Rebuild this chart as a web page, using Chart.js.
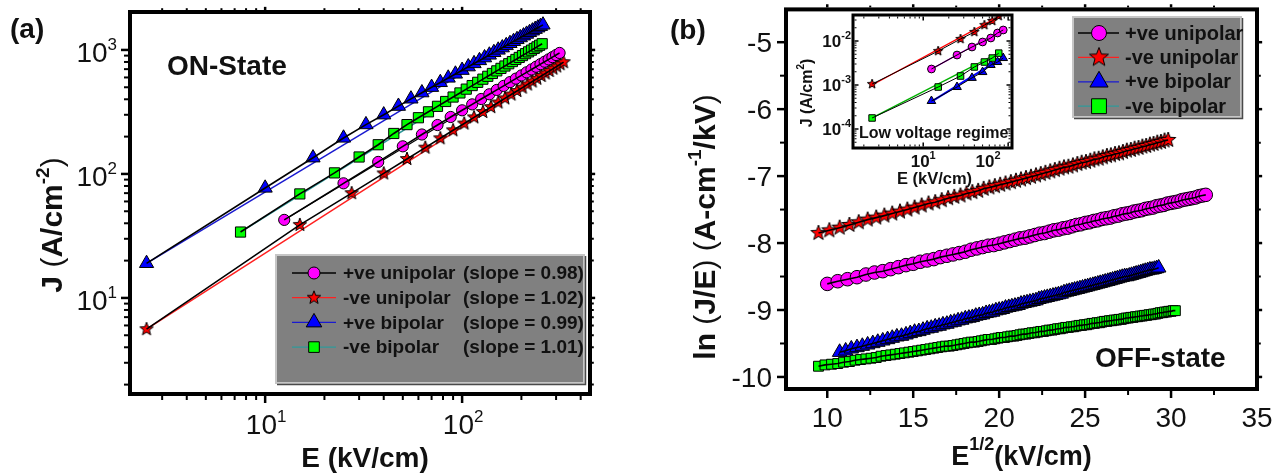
<!DOCTYPE html>
<html>
<head>
<meta charset="utf-8">
<script src="https://cdn.jsdelivr.net/npm/chart.js@4.4.0/dist/chart.umd.min.js"></script>
<style>
  html, body { margin: 0; padding: 0; background: #fff; }
  #wrap { position: relative; width: 1276px; height: 473px; overflow: hidden; }
  canvas { position: absolute; top: 0; }
</style>
</head>
<body>
<div id="wrap">
  <canvas id="chartA" width="650" height="473" style="left:0"></canvas>
  <canvas id="chartB" width="626" height="473" style="left:650px"></canvas>
  <canvas id="chartInset" width="240" height="195" style="left:780px"></canvas>
</div>
<script>
// ---------- data ----------
const seriesNames = ['+ve unipolar', '-ve unipolar', '+ve bipolar', '-ve bipolar'];
const slopeLabels = ['(slope = 0.98)', '(slope = 1.02)', '(slope = 0.99)', '(slope = 1.01)'];

// (a) ON state: E (kV/cm) and J (A/cm^2)
const onMagE = [12.5,25,37.5,50,62.5,75,87.5,100,112.5,125,137.5,150,162.5,175,187.5,200,212.5,225,237.5,250,262.5,275,287.5,300,312.5];
const onMagJ = [42.6,84,125,167,208,248,288,326,364,402,439,476,513,550,587,623,660,696,732,768,804,839,875,910,946];
const onRedE = [2.5,15,27.5,40,52.5,65,77.5,90,102.5,115,127.5,140,152.5,165,177.5,190,202.5,215,227.5,240,252.5,265,277.5,290,302.5,315,327.5];
const onRedJ = [5.6,38.8,70,101,132,163,194,225,255,286,316,346,377,407,437,467,497,527,557,587,617,647,677,707,737,767,797];
const onBlueE = [2.5,10,17.5,25,32.5,40,47.5,55,62.5,70,77.5,85,92.5,100,107.5,115,122.5,130,137.5,145,152.5,160,167.5,175,182.5,190,197.5,205,212.5,220,227.5,235,242.5,250,257.5];
const onBlueJ = [19,77,135,195,250,300,352,403,452,500,547,594,640,686,732,777,822,866,911,955,999,1042,1086,1129,1172,1215,1257,1300,1342,1384,1426,1468,1509,1551,1592];
const onGreenE = [7.5,15,22.5,30,37.5,45,52.5,60,67.5,75,82.5,90,97.5,105,112.5,120,127.5,135,142.5,150,157.5,165,172.5,180,187.5,195,202.5,210,217.5,225,232.5,240,247.5,255];
const onGreenJ = [34,69,102,137,172,212,250,284,317,351,384,417,450,483,516,548,581,613,646,678,710,742,774,806,838,870,901,933,965,996,1028,1059,1091,1122];
// (a) fitted straight lines (end points)
const onMagFitE = [12.5, 312.5],  onMagFitJ = [42.6, 946];
const onRedFitE = [2.5, 327.5],   onRedFitJ = [5.6, 797];
const onBlueFitE = [2.5, 257.5],  onBlueFitJ = [19, 1592];
const onGreenFitE = [7.5, 255],   onGreenFitJ = [34, 1122];

// (b) OFF state: E^1/2 and ln(J/E)
const offRedX = [9.49,10.12,10.72,11.29,11.83,12.35,12.85,13.32,13.78,14.23,14.66,15.08,15.49,15.89,16.28,16.66,17.03,17.39,17.75,18.10,18.44,18.78,19.10,19.43,19.75,20.06,20.37,20.68,20.98,21.27,21.56,21.85,22.14,22.42,22.69,22.97,23.24,23.51,23.77,24.03,24.29,24.55,24.80,25.05,25.30,25.54,25.79,26.03,26.27,26.50,26.74,26.97,27.20,27.43,27.66,27.88,28.11,28.33,28.55,28.77,28.98,29.20,29.41,29.62,29.83];
const offRedY = [-7.85,-7.81,-7.77,-7.73,-7.69,-7.65,-7.62,-7.59,-7.56,-7.53,-7.50,-7.47,-7.44,-7.41,-7.39,-7.36,-7.33,-7.31,-7.29,-7.26,-7.24,-7.22,-7.19,-7.17,-7.15,-7.13,-7.11,-7.09,-7.07,-7.05,-7.03,-7.01,-6.99,-6.97,-6.95,-6.93,-6.91,-6.89,-6.87,-6.86,-6.84,-6.82,-6.80,-6.79,-6.77,-6.75,-6.74,-6.72,-6.70,-6.69,-6.67,-6.66,-6.64,-6.62,-6.61,-6.59,-6.58,-6.56,-6.55,-6.53,-6.52,-6.50,-6.49,-6.47,-6.46];
const offMagX = [10.00,10.61,11.18,11.73,12.25,12.75,13.23,13.69,14.14,14.58,15.00,15.41,15.81,16.20,16.58,16.96,17.32,17.68,18.03,18.37,18.71,19.04,19.36,19.69,20.00,20.31,20.62,20.92,21.21,21.51,21.79,22.08,22.36,22.64,22.91,23.18,23.45,23.72,23.98,24.24,24.49,24.75,25.00,25.25,25.50,25.74,25.98,26.22,26.46,26.69,26.93,27.16,27.39,27.61,27.84,28.06,28.28,28.50,28.72,28.94,29.15,29.37,29.58,29.79,30.00,30.21,30.41,30.62,30.82,31.02,31.22,31.42,31.62,31.82,32.02];
const offMagY = [-8.61,-8.57,-8.54,-8.51,-8.47,-8.44,-8.42,-8.39,-8.36,-8.33,-8.31,-8.28,-8.26,-8.24,-8.21,-8.19,-8.17,-8.15,-8.13,-8.10,-8.08,-8.06,-8.04,-8.03,-8.01,-7.99,-7.97,-7.95,-7.93,-7.92,-7.90,-7.88,-7.86,-7.85,-7.83,-7.81,-7.80,-7.78,-7.77,-7.75,-7.73,-7.72,-7.70,-7.69,-7.67,-7.66,-7.64,-7.63,-7.62,-7.60,-7.59,-7.57,-7.56,-7.55,-7.53,-7.52,-7.51,-7.49,-7.48,-7.47,-7.45,-7.44,-7.43,-7.41,-7.40,-7.39,-7.38,-7.36,-7.35,-7.34,-7.33,-7.32,-7.30,-7.29,-7.28];
const offBlueX = [10.72,11.07,11.40,11.73,12.04,12.35,12.65,12.94,13.23,13.51,13.78,14.05,14.32,14.58,14.83,15.08,15.33,15.57,15.81,16.05,16.28,16.51,16.73,16.96,17.18,17.39,17.61,17.82,18.03,18.24,18.44,18.64,18.84,19.04,19.24,19.43,19.62,19.81,20.00,20.19,20.37,20.56,20.74,20.92,21.10,21.27,21.45,21.62,21.79,21.97,22.14,22.31,22.47,22.64,22.80,22.97,23.13,23.29,23.45,23.61,23.77,23.93,24.08,24.24,24.39,24.55,24.70,24.85,25.00,25.15,25.30,25.45,25.59,25.74,25.88,26.03,26.17,26.32,26.46,26.60,26.74,26.88,27.02,27.16,27.30,27.43,27.57,27.70,27.84,27.97,28.11,28.24,28.37,28.50,28.64,28.77,28.90,29.03,29.16,29.28];
const offBlueY = [-9.63,-9.61,-9.58,-9.56,-9.54,-9.52,-9.50,-9.48,-9.46,-9.44,-9.42,-9.40,-9.39,-9.37,-9.35,-9.33,-9.32,-9.30,-9.28,-9.27,-9.25,-9.24,-9.22,-9.21,-9.19,-9.18,-9.16,-9.15,-9.13,-9.12,-9.11,-9.09,-9.08,-9.07,-9.05,-9.04,-9.03,-9.01,-9.00,-8.99,-8.97,-8.96,-8.95,-8.94,-8.93,-8.91,-8.90,-8.89,-8.88,-8.87,-8.86,-8.84,-8.83,-8.82,-8.81,-8.80,-8.79,-8.78,-8.77,-8.76,-8.74,-8.73,-8.72,-8.71,-8.70,-8.69,-8.68,-8.67,-8.66,-8.65,-8.64,-8.63,-8.62,-8.61,-8.60,-8.59,-8.58,-8.57,-8.56,-8.55,-8.54,-8.53,-8.52,-8.51,-8.50,-8.50,-8.49,-8.48,-8.47,-8.46,-8.45,-8.44,-8.43,-8.42,-8.41,-8.40,-8.40,-8.39,-8.38,-8.37];
const offGreenX = [9.49,9.87,10.25,10.61,10.95,11.29,11.62,11.94,12.25,12.55,12.85,13.13,13.42,13.69,13.96,14.23,14.49,14.75,15.00,15.25,15.49,15.73,15.97,16.20,16.43,16.66,16.88,17.10,17.32,17.54,17.75,17.96,18.17,18.37,18.57,18.78,18.97,19.17,19.36,19.56,19.75,19.94,20.12,20.31,20.49,20.68,20.86,21.04,21.21,21.39,21.56,21.74,21.91,22.08,22.25,22.42,22.58,22.75,22.91,23.08,23.24,23.40,23.56,23.72,23.87,24.03,24.19,24.34,24.49,24.65,24.80,24.95,25.10,25.25,25.40,25.54,25.69,25.84,25.98,26.12,26.27,26.41,26.55,26.69,26.83,26.97,27.11,27.25,27.39,27.52,27.66,27.79,27.93,28.06,28.20,28.33,28.46,28.59,28.72,28.85,28.98,29.11,29.24,29.37,29.50,29.62,29.75,29.87,30.00,30.12,30.25];
const offGreenY = [-9.84,-9.82,-9.81,-9.80,-9.78,-9.77,-9.75,-9.74,-9.73,-9.72,-9.71,-9.69,-9.68,-9.67,-9.66,-9.65,-9.64,-9.63,-9.62,-9.61,-9.60,-9.59,-9.58,-9.57,-9.56,-9.55,-9.54,-9.54,-9.53,-9.52,-9.51,-9.50,-9.49,-9.48,-9.48,-9.47,-9.46,-9.45,-9.44,-9.44,-9.43,-9.42,-9.41,-9.41,-9.40,-9.39,-9.39,-9.38,-9.37,-9.36,-9.36,-9.35,-9.34,-9.34,-9.33,-9.32,-9.32,-9.31,-9.30,-9.30,-9.29,-9.28,-9.28,-9.27,-9.26,-9.26,-9.25,-9.25,-9.24,-9.23,-9.23,-9.22,-9.22,-9.21,-9.20,-9.20,-9.19,-9.19,-9.18,-9.17,-9.17,-9.16,-9.16,-9.15,-9.15,-9.14,-9.14,-9.13,-9.12,-9.12,-9.11,-9.11,-9.10,-9.10,-9.09,-9.09,-9.08,-9.08,-9.07,-9.07,-9.06,-9.06,-9.05,-9.04,-9.04,-9.03,-9.03,-9.02,-9.02,-9.01,-9.01];

// inset: low voltage regime, E (kV/cm) and J (A/cm^2)
const inRedE = [2.5,15,27.5,40,52.5,65,77.5];
const inRedJ = [1.05e-3,5.9e-3,1.11e-2,1.6e-2,2.3e-2,2.85e-2,3.7e-2];
const inMagE = [12.5,25,37.5,50,62.5,75,87.5];
const inMagJ = [2.31e-3,4.8e-3,7.3e-3,9.5e-3,1.17e-2,1.52e-2,1.78e-2];
const inGreenE = [2.5,15,27.5,40,52.5,65,77.5];
const inGreenJ = [1.78e-4,9.0e-4,1.6e-3,2.57e-3,3.33e-3,4.1e-3,5.3e-3];
const inBlueE = [12.5,25,37.5,50,62.5,75,87.5];
const inBlueJ = [4.33e-4,9.0e-4,1.45e-3,1.97e-3,2.85e-3,3.33e-3,4.1e-3];
const inRedFitE = [2.5, 77.5],   inRedFitJ = [1.0e-3, 3.6e-2];
const inMagFitE = [12.5, 87.5],  inMagFitJ = [2.3e-3, 1.85e-2];
const inGreenFitE = [2.5, 77.5], inGreenFitJ = [1.8e-4, 5.4e-3];
const inBlueFitE = [12.5, 87.5], inBlueFitJ = [4.2e-4, 4.3e-3];

// axes
const aXTicks = [10, 100], aYTicks = [10, 100, 1000];
const bXTicks = [10, 15, 20, 25, 30, 35], bYTicks = [-5, -6, -7, -8, -9, -10];
const inXTicks = [10, 100], inYTicks = [1e-2, 1e-3, 1e-4];

// ---------- helpers ----------
const FONT = "'Liberation Sans', Arial, Helvetica, sans-serif";
const INK = '#111';
const fnt = (size, bold) => (bold ? 'bold ' : '') + size + 'px ' + FONT;
const pts = (xs, ys) => xs.map((x, i) => ({x: x, y: ys[i]}));

function starImage(size, fill) {
  const c = document.createElement('canvas');
  c.width = c.height = size + 2;
  const g = c.getContext('2d');
  const m = c.width / 2, R = size / 2, r = R * 0.42;
  g.beginPath();
  for (let i = 0; i < 10; i++) {
    const ang = -Math.PI / 2 + i * Math.PI / 5, rad = i % 2 ? r : R;
    g.lineTo(m + rad * Math.cos(ang), m + rad * Math.sin(ang));
  }
  g.closePath();
  g.fillStyle = fill; g.fill();
  g.lineWidth = 1; g.strokeStyle = '#000'; g.stroke();
  return c;
}

function markers(data, style, r, fill) {
  return {data: data, showLine: false, pointStyle: style, pointRadius: r,
    pointBackgroundColor: fill, pointBorderColor: '#000', pointBorderWidth: 1, order: 1};
}
function line(data, color, w, order) {
  return {data: data, showLine: true, borderColor: color, borderWidth: w, pointRadius: 0, fill: false, order: order};
}

function logTicks(min, max) {
  const out = [];
  for (let e = Math.floor(Math.log10(min)); e <= Math.floor(Math.log10(max)); e++)
    for (let m = 1; m <= 9; m++) {
      const v = m * Math.pow(10, e);
      if (v >= min && v <= max) out.push({v: v, major: m === 1});
    }
  return out;
}
function linTicks(min, max, minor, every) {
  const out = [];
  for (let k = Math.ceil(min / minor); k * minor <= max + 1e-9; k++)
    out.push({v: k * minor, major: Math.abs(k % every) === 0});
  return out;
}

// frame + tick marks; dir 1 = outward
function drawFrame(chart, o) {
  const ctx = chart.ctx, a = chart.chartArea, sx = chart.scales.x, sy = chart.scales.y;
  ctx.save();
  ctx.strokeStyle = '#000';
  const h = o.frame / 2;
  const seg = (x1, y1, x2, y2) => { ctx.beginPath(); ctx.moveTo(x1, y1); ctx.lineTo(x2, y2); ctx.stroke(); };
  o.xt.forEach(t => {
    const p = sx.getPixelForValue(t.v);
    if (p < a.left + 2 || p > a.right - 2) return;
    ctx.lineWidth = t.major ? o.majW : o.minW;
    const L = t.major ? o.maj : o.min;
    seg(p, a.bottom + h * o.dir, p, a.bottom + o.dir * (h + L));
    seg(p, a.top - h * o.dir, p, a.top - o.dir * (h + L * o.opp));
  });
  o.yt.forEach(t => {
    const p = sy.getPixelForValue(t.v);
    if (p < a.top + 2 || p > a.bottom - 2) return;
    ctx.lineWidth = t.major ? o.majW : o.minW;
    const L = t.major ? o.maj : o.min;
    seg(a.left - h * o.dir, p, a.left - o.dir * (h + L), p);
    seg(a.right + h * o.dir, p, a.right + o.dir * (h + L * o.opp), p);
  });
  ctx.lineWidth = o.frame;
  ctx.strokeRect(a.left, a.top, a.right - a.left, a.bottom - a.top);
  ctx.restore();
}

// sequence of text runs (for superscripts), optional rotation
function rich(ctx, parts, x, y, align, rot) {
  ctx.save();
  ctx.translate(x, y);
  if (rot) ctx.rotate(rot);
  ctx.fillStyle = INK; ctx.textAlign = 'left'; ctx.textBaseline = 'alphabetic';
  let w = 0;
  parts.forEach(p => { ctx.font = fnt(p.s, p.b); p.w = ctx.measureText(p.t).width; w += p.w; });
  let cx = align === 'center' ? -w / 2 : (align === 'right' ? -w : 0);
  parts.forEach(p => { ctx.font = fnt(p.s, p.b); ctx.fillText(p.t, cx, -(p.r || 0)); cx += p.w; });
  ctx.restore();
}
const powParts = (v, s, ss, rise, bold) => {
  const e = Math.round(Math.log10(v));
  return [{t: '10', s: s, b: bold}, {t: String(e), s: ss, b: bold, r: rise}];
};

function drawLegend(ctx, box, rows, o) {
  ctx.save();
  ctx.fillStyle = '#808080';
  ctx.fillRect(box.x, box.y, box.w, box.h);
  ctx.lineWidth = 2; ctx.strokeStyle = '#c6c6c6';
  ctx.strokeRect(box.x + 1, box.y + 1, box.w - 2, box.h - 2);
  ctx.strokeStyle = '#4a4a4a'; ctx.lineWidth = 1.5;
  ctx.beginPath();
  ctx.moveTo(box.x + 2, box.y + box.h + 0.5);
  ctx.lineTo(box.x + box.w + 0.5, box.y + box.h + 0.5);
  ctx.lineTo(box.x + box.w + 0.5, box.y + 2);
  ctx.stroke();
  rows.forEach((r, i) => {
    const y = o.y0 + i * o.dy;
    ctx.strokeStyle = r.line; ctx.lineWidth = 1.3;
    ctx.beginPath(); ctx.moveTo(o.l0, y); ctx.lineTo(o.l1, y); ctx.stroke();
    ctx.fillStyle = r.fill; ctx.strokeStyle = '#000'; ctx.lineWidth = 1;
    Chart.helpers.drawPoint(ctx, {pointStyle: r.style, radius: r.r, rotation: 0, borderWidth: 1}, o.mx, y);
    ctx.fillStyle = INK; ctx.font = fnt(o.size, true);
    ctx.textAlign = 'left'; ctx.textBaseline = 'middle';
    ctx.fillText(r.label, o.tx, y + 1);
    if (r.extra) ctx.fillText(r.extra, o.tx2, y + 1);
  });
  ctx.restore();
}

function baseOptions(pad, xs, ys) {
  return {
    responsive: false, animation: false, events: [],
    layout: {padding: pad},
    plugins: {legend: {display: false}, tooltip: {enabled: false}},
    scales: {x: Object.assign({display: false}, xs), y: Object.assign({display: false}, ys)}
  };
}

const COL = {mag: '#ff00ff', red: '#ff0000', blue: '#0000ff', green: '#00ff00'};
const LINE = {mag: '#000000', red: '#ff2020', blue: '#1a1ad0', green: '#2f9a9a'};

// ---------- panel (a) ----------
const starA = starImage(14, COL.red);
const aX = {type: 'logarithmic', min: 2.06, max: 446};
const aY = {type: 'logarithmic', min: 1.68, max: 2023};

new Chart(document.getElementById('chartA'), {
  type: 'scatter',
  data: {datasets: [
    line(pts(onBlueE, onBlueJ), '#000', 1.6, 0),
    line(pts(onGreenE, onGreenJ), '#000', 1.6, 0),
    line(pts(onMagE, onMagJ), '#000', 1.6, 0),
    line(pts(onRedE, onRedJ), '#000', 1.6, 0),
    markers(pts(onBlueE, onBlueJ), 'triangle', 8.2, COL.blue),
    markers(pts(onGreenE, onGreenJ), 'rect', 7.2, COL.green),
    markers(pts(onMagE, onMagJ), 'circle', 5.6, COL.mag),
    markers(pts(onRedE, onRedJ), starA, 7, COL.red),
    line(pts(onBlueFitE, onBlueFitJ), LINE.blue, 1.5, 2),
    line(pts(onGreenFitE, onGreenFitJ), LINE.green, 1.5, 2),
    line(pts(onMagFitE, onMagFitJ), LINE.mag, 1.2, 2),
    line(pts(onRedFitE, onRedFitJ), LINE.red, 1.5, 2)
  ]},
  options: baseOptions({left: 130, top: 12, right: 60, bottom: 79}, aX, aY),
  plugins: [{
    id: 'decorA',
    afterDraw(chart) {
      const ctx = chart.ctx, a = chart.chartArea, sx = chart.scales.x, sy = chart.scales.y;
      drawFrame(chart, {frame: 4, dir: 1, maj: 7, min: 4, opp: 0.45, majW: 2.5, minW: 2,
        xt: logTicks(aX.min, aX.max), yt: logTicks(aY.min, aY.max)});
      aXTicks.forEach(v => rich(ctx, powParts(v, 28, 17, 12), sx.getPixelForValue(v) + 1, a.bottom + 40, 'center'));
      aYTicks.forEach(v => rich(ctx, powParts(v, 28, 17, 12), a.left - 13, sy.getPixelForValue(v) + 12, 'right'));
      rich(ctx, [{t: 'E (kV/cm)', s: 28, b: true}], (a.left + a.right) / 2 + 5, 467, 'center');
      rich(ctx, [{t: 'J ', s: 30, b: true}, {t: '(', s: 30}, {t: 'A/cm', s: 30, b: true},
        {t: '-2', s: 19, b: true, r: 13}, {t: ')', s: 30}], 62, 225, 'center', -Math.PI / 2);
      rich(ctx, [{t: '(a)', s: 28, b: true}], 10, 38, 'left');
      rich(ctx, [{t: 'ON-State', s: 28, b: true}], 167, 75, 'left');
      drawLegend(ctx, {x: 275, y: 254, w: 310, h: 130}, [
        {label: seriesNames[0], extra: slopeLabels[0], style: 'circle', r: 6, fill: COL.mag, line: LINE.mag},
        {label: seriesNames[1], extra: slopeLabels[1], style: starImage(14, COL.red), r: 7, fill: COL.red, line: LINE.red},
        {label: seriesNames[2], extra: slopeLabels[2], style: 'triangle', r: 9, fill: COL.blue, line: LINE.blue},
        {label: seriesNames[3], extra: slopeLabels[3], style: 'rect', r: 7.5, fill: COL.green, line: LINE.green}
      ], {y0: 273, dy: 24.7, l0: 292, l1: 336, mx: 314, tx: 343, tx2: 463, size: 19});
    }
  }]
});

// ---------- panel (b) ----------
const starB = starImage(16, COL.red);
const bX = {type: 'linear', min: 7.6, max: 35};
const bY = {type: 'linear', min: -10.18, max: -4.51};

new Chart(document.getElementById('chartB'), {
  type: 'scatter',
  data: {datasets: [
    line(pts(offRedX, offRedY), '#000', 1.6, 0),
    line(pts(offMagX, offMagY), '#000', 1.6, 0),
    line(pts(offBlueX, offBlueY), '#000', 1.6, 0),
    line(pts(offGreenX, offGreenY), '#000', 1.6, 0),
    markers(pts(offRedX, offRedY), starB, 8, COL.red),
    markers(pts(offMagX, offMagY), 'circle', 6.8, COL.mag),
    markers(pts(offBlueX, offBlueY), 'triangle', 8.4, COL.blue),
    markers(pts(offGreenX, offGreenY), 'rect', 7, COL.green)
  ]},
  options: baseOptions({left: 136, top: 8, right: 19, bottom: 84}, bX, bY),
  plugins: [{
    id: 'decorB',
    afterDraw(chart) {
      const ctx = chart.ctx, a = chart.chartArea, sx = chart.scales.x, sy = chart.scales.y;
      drawFrame(chart, {frame: 4, dir: 1, maj: 7, min: 4, opp: 0.45, majW: 2.5, minW: 2,
        xt: linTicks(bX.min, bX.max, 2.5, 2), yt: linTicks(bY.min, bY.max, 0.5, 2)});
      bXTicks.forEach(v => rich(ctx, [{t: String(v), s: 28}], sx.getPixelForValue(v), a.bottom + 38, 'center'));
      bYTicks.forEach(v => rich(ctx, [{t: String(v), s: 28}], a.left - 14, sy.getPixelForValue(v) + 10, 'right'));
      rich(ctx, [{t: 'E', s: 27, b: true}, {t: '1/2', s: 18, b: true, r: 15}, {t: '(kV/cm)', s: 27, b: true}],
        (a.left + a.right) / 2, 465, 'center');
      rich(ctx, [{t: 'ln ', s: 30, b: true}, {t: '(', s: 30}, {t: 'J/E', s: 30, b: true}, {t: ') ', s: 30},
        {t: '(', s: 30}, {t: 'A-cm', s: 30, b: true}, {t: '-1', s: 19, b: true, r: 14},
        {t: '/kV', s: 30, b: true}, {t: ')', s: 30}], 65, 227, 'center', -Math.PI / 2);
      rich(ctx, [{t: '(b)', s: 28, b: true}], 20, 39, 'left');
      rich(ctx, [{t: 'OFF-state', s: 28, b: true}], 445, 367, 'left');
      drawLegend(ctx, {x: 422, y: 16, w: 170, h: 102}, [
        {label: seriesNames[0], style: 'circle', r: 7.5, fill: COL.mag, line: LINE.mag},
        {label: seriesNames[1], style: starImage(20, COL.red), r: 10, fill: COL.red, line: LINE.red},
        {label: seriesNames[2], style: 'triangle', r: 10.5, fill: COL.blue, line: LINE.blue},
        {label: seriesNames[3], style: 'rect', r: 10.5, fill: COL.green, line: LINE.green}
      ], {y0: 33, dy: 24.4, l0: 428, l1: 469, mx: 449, tx: 475, size: 20});
    }
  }]
});

// ---------- inset ----------
const starI = starImage(10, COL.red);
const iX = {type: 'logarithmic', min: 1.49, max: 111};
const iY = {type: 'logarithmic', min: 3.7e-5, max: 3.9e-2};

new Chart(document.getElementById('chartInset'), {
  type: 'scatter',
  data: {datasets: [
    line(pts(inRedE, inRedJ), '#000', 1, 0),
    line(pts(inMagE, inMagJ), '#000', 1, 0),
    line(pts(inGreenE, inGreenJ), '#000', 1, 0),
    line(pts(inBlueE, inBlueJ), '#000', 1, 0),
    markers(pts(inRedE, inRedJ), starI, 5, COL.red),
    markers(pts(inMagE, inMagJ), 'circle', 3.9, COL.mag),
    markers(pts(inGreenE, inGreenJ), 'rect', 4.6, COL.green),
    markers(pts(inBlueE, inBlueJ), 'triangle', 5, COL.blue),
    line(pts(inRedFitE, inRedFitJ), '#ff0000', 1.4, 2),
    line(pts(inMagFitE, inMagFitJ), '#b000c0', 1.4, 2),
    line(pts(inGreenFitE, inGreenFitJ), '#00b000', 1.4, 2),
    line(pts(inBlueFitE, inBlueFitJ), '#0000ff', 2, 2)
  ]},
  options: baseOptions({left: 73, top: 15, right: 8, bottom: 47}, iX, iY),
  plugins: [{
    id: 'insetBg',
    beforeDatasetsDraw(chart) {
      const ctx = chart.ctx, a = chart.chartArea;
      ctx.save(); ctx.fillStyle = '#fff';
      ctx.fillRect(a.left, a.top, a.right - a.left, a.bottom - a.top);
      ctx.restore();
    },
    afterDraw(chart) {
      const ctx = chart.ctx, a = chart.chartArea, sx = chart.scales.x, sy = chart.scales.y;
      drawFrame(chart, {frame: 3, dir: -1, maj: 4, min: 2, opp: 1, majW: 1.5, minW: 1,
        xt: logTicks(iX.min, iX.max), yt: logTicks(iY.min, iY.max)});
      inXTicks.forEach(v => {
        const p = Math.min(sx.getPixelForValue(v), a.right - 24);
        rich(ctx, powParts(v, 17, 11, 8, true), p, a.bottom + 19, 'center');
      });
      inYTicks.forEach(v => rich(ctx, powParts(v, 17, 11, 8, true), a.left - 2, sy.getPixelForValue(v) + 6, 'right'));
      rich(ctx, [{t: 'E (kV/cm)', s: 16.5, b: true}], (a.left + a.right) / 2 + 2, 184, 'center');
      rich(ctx, [{t: 'J (A/cm', s: 16, b: true}, {t: '2', s: 10, b: true, r: 8}, {t: ')', s: 16, b: true}],
        32, 93, 'center', -Math.PI / 2);
      rich(ctx, [{t: 'Low voltage regime', s: 16, b: true}], a.left + 6, 138, 'left');
    }
  }]
});
</script>
</body>
</html>
